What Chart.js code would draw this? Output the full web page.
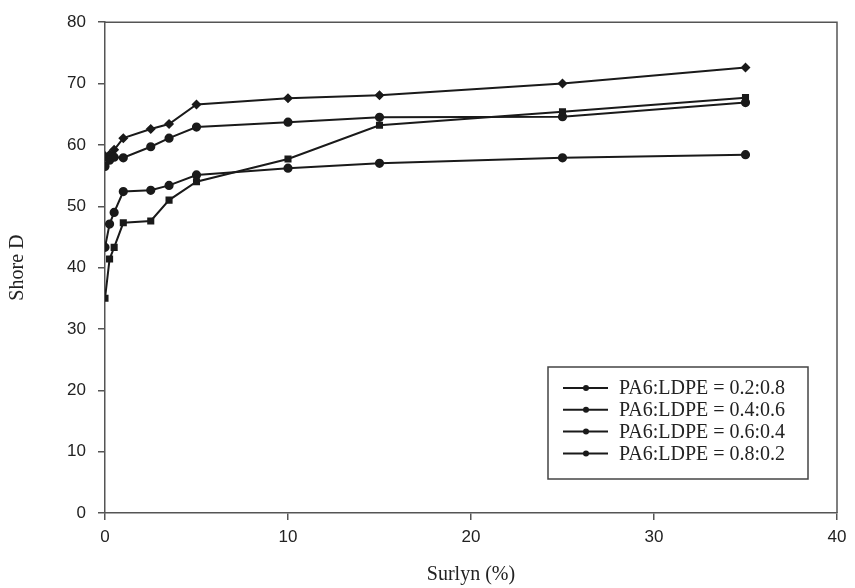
<!DOCTYPE html>
<html>
<head>
<meta charset="utf-8">
<script src="https://cdn.jsdelivr.net/npm/chart.js@4/dist/chart.umd.min.js"></script>
<style>
  html, body { margin: 0; padding: 0; background: #fff; }
  #wrap { width: 855px; height: 588px; position: relative; }
</style>
</head>
<body>
<div id="wrap"><canvas id="c" width="855" height="588"></canvas></div>
<script>
// Data
const surlyn = [0, 0.25, 0.5, 1, 2.5, 3.5, 5, 10, 15, 25, 35];
const seriesLabels = [
  'PA6:LDPE = 0.2:0.8',
  'PA6:LDPE = 0.4:0.6',
  'PA6:LDPE = 0.6:0.4',
  'PA6:LDPE = 0.8:0.2'
];
const shore_02_08 = [35.0, 41.4, 43.3, 47.3, 47.6, 51.0, 54.0, 57.7, 63.2, 65.4, 67.7];
const shore_04_06 = [43.3, 47.1, 49.0, 52.4, 52.6, 53.4, 55.1, 56.2, 57.0, 57.9, 58.4];
const shore_06_04 = [56.5, 57.5, 58.0, 57.9, 59.7, 61.1, 62.9, 63.7, 64.5, 64.6, 66.9];
const shore_08_02 = [58.2, 58.4, 59.2, 61.1, 62.6, 63.4, 66.6, 67.6, 68.1, 70.0, 72.6];
const xTicks = [0, 10, 20, 30, 40];
const yTicks = [0, 10, 20, 30, 40, 50, 60, 70, 80];

const seriesValues = [shore_02_08, shore_04_06, shore_06_04, shore_08_02];
const markerStyles = ['rect', 'circle', 'circle', 'rectRot'];

function toPoints(vals) { return surlyn.map((x, i) => ({ x: x, y: vals[i] })); }

const datasets = seriesValues.map((vals, i) => ({
  label: seriesLabels[i],
  data: toPoints(vals),
  borderColor: '#1a1a1a',
  backgroundColor: '#1a1a1a',
  borderWidth: 2,
  pointStyle: markerStyles[i],
  pointRadius: 3.6,
  pointHoverRadius: 3.6,
  tension: 0,
  fill: false
}));

const frameAndLegend = {
  id: 'frameAndLegend',
  afterDatasetsDraw(chart) {
    const ctx = chart.ctx;
    const a = chart.chartArea;
    ctx.save();
    // top and right frame
    ctx.strokeStyle = '#555';
    ctx.lineWidth = 1.5;
    ctx.beginPath();
    ctx.moveTo(a.left, a.top);
    ctx.lineTo(a.right, a.top);
    ctx.lineTo(a.right, a.bottom);
    ctx.stroke();

    // legend box
    const bx = 548, by = 367, bw = 260, bh = 112;
    ctx.fillStyle = '#fff';
    ctx.fillRect(bx, by, bw, bh);
    ctx.strokeStyle = '#444';
    ctx.lineWidth = 1.5;
    ctx.strokeRect(bx, by, bw, bh);
    ctx.font = '20px "Liberation Serif", "Times New Roman", serif';
    ctx.textBaseline = 'middle';
    ctx.textAlign = 'left';
    chart.data.datasets.forEach((ds, i) => {
      const y = 388 + i * 21.8;
      ctx.strokeStyle = '#1a1a1a';
      ctx.lineWidth = 2;
      ctx.beginPath();
      ctx.moveTo(563, y);
      ctx.lineTo(608, y);
      ctx.stroke();
      ctx.fillStyle = '#1a1a1a';
      ctx.beginPath();
      ctx.arc(586, y, 3, 0, Math.PI * 2);
      ctx.fill();
      ctx.fillStyle = '#222';
      ctx.fillText(ds.label, 619, y + 1);
    });
    ctx.restore();
  }
};

new Chart(document.getElementById('c'), {
  type: 'line',
  data: { datasets: datasets },
  plugins: [frameAndLegend],
  options: {
    responsive: false,
    animation: false,
    events: [],
    layout: { padding: { left: 0, right: 18, top: 18, bottom: 0 } },
    plugins: { legend: { display: false }, tooltip: { enabled: false } },
    scales: {
      x: {
        type: 'linear',
        min: 0, max: 40,
        afterBuildTicks(scale) { scale.ticks = xTicks.map(v => ({ value: v })); },
        afterFit(scale) { scale.height = 75; },
        grid: { display: true, drawOnChartArea: false, drawTicks: true, tickLength: 7, tickColor: '#555', lineWidth: 1.5 },
        border: { display: true, color: '#555', width: 1.5 },
        ticks: { color: '#222', padding: 7, font: { family: '"Liberation Sans", Arial, sans-serif', size: 17 }, maxRotation: 0 },
        title: { display: true, text: 'Surlyn (%)', color: '#222', padding: { top: 0, bottom: 1 },
                 font: { family: '"Liberation Serif", "Times New Roman", serif', size: 20 } }
      },
      y: {
        type: 'linear',
        min: 0, max: 80,
        afterBuildTicks(scale) { scale.ticks = yTicks.map(v => ({ value: v })); },
        afterFit(scale) { scale.width = 105; },
        grid: { display: true, drawOnChartArea: false, drawTicks: true, tickLength: 7, tickColor: '#555', lineWidth: 1.5 },
        border: { display: true, color: '#555', width: 1.5 },
        ticks: { color: '#222', padding: 12, font: { family: '"Liberation Sans", Arial, sans-serif', size: 17 } },
        title: { display: true, text: 'Shore D', color: '#222', padding: { top: 6, bottom: 0 },
                 font: { family: '"Liberation Serif", "Times New Roman", serif', size: 20 } }
      }
    }
  }
});
</script>
</body>
</html>
